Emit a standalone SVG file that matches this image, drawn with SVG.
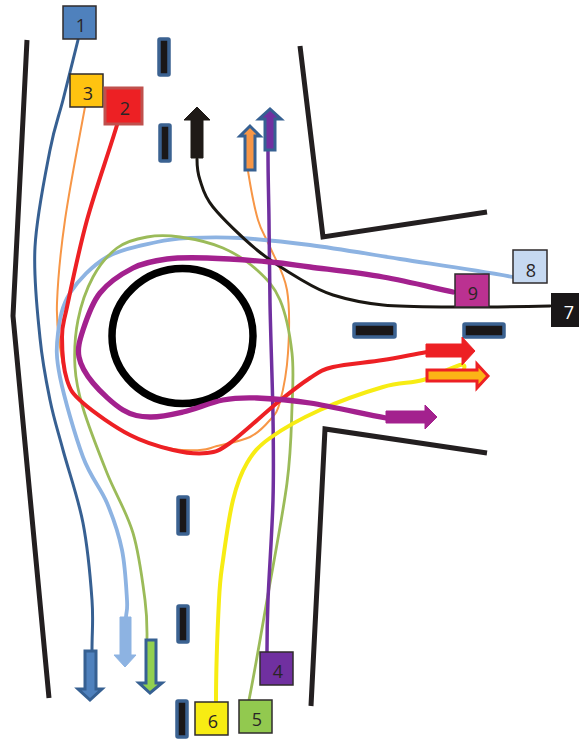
<svg xmlns="http://www.w3.org/2000/svg" width="579" height="742" viewBox="0 0 579 742">
<style>
.wall{fill:none;stroke:#231f20;stroke-width:5}
.isl{fill:#1a1718;stroke:#3b6291;stroke-width:3.5}
.c{fill:none;stroke-linecap:round}
.n{stroke:#2f2b2c;stroke-width:1.5}
text{font-family:"Open Sans","Liberation Sans",sans-serif;font-size:18px;fill:#2a2526;text-anchor:middle}
</style>
<rect width="579" height="742" fill="#fff"/>
<g id="walls">
<path class="wall" d="M27 40L13 316L49 698"/>
<path class="wall" d="M300 46L323 237L487 212"/>
<path class="wall" d="M311 706L325 429L487 453"/>
</g>
<g id="islands">
<rect class="isl" x="159" y="39" width="10" height="36" rx="1"/>
<rect class="isl" x="160" y="125" width="10" height="36" rx="1"/>
<rect class="isl" x="178" y="497" width="10" height="37" rx="1"/>
<rect class="isl" x="178" y="606" width="10" height="36" rx="1"/>
<rect class="isl" x="177" y="701" width="10" height="36" rx="1"/>
<rect class="isl" x="354" y="324" width="41" height="13" rx="1"/>
<rect class="isl" x="464" y="324" width="40" height="13" rx="1"/>
<ellipse cx="182.500" cy="336" rx="70.500" ry="67.500" fill="none" stroke="#000" stroke-width="7.500"/>
</g>
<g id="connectors">
<path class="c" stroke="#376092" stroke-width="3" d="M78 40C73 60 67.700 81.700 63 100S54.700 125.500 50 150S36.700 215.700 35 247S37.500 312.500 40 338S46.200 381.300 50 400S57.500 429.500 63 450S78.200 498 83 523S90.500 579 92 600S92 630 92 650"/>
<path class="c" stroke="#f79646" stroke-width="2" d="M85 107C78 145 69.700 187.300 65 220S57.800 281.800 57 303S58.200 333.300 60 347S63.500 369 67 380S72.500 393.800 83 403S115 427.200 130 435S160.200 447 173 449S190 450.500 200 450S208.700 448.200 217 446S241.200 441.300 250 437S265 425.800 270 420S277 413.200 280 402S286.800 371.700 288 353S290 307.700 287 290S274.800 258.700 270 247S261.700 232.700 258 220S251 190 248 171"/>
<path class="c" stroke="#8db3e2" stroke-width="3.800" d="M513 277C475 270 433.800 264.300 400 259S336.700 248.500 310 245S260 239.200 240 238S203.800 237.300 190 238S170.800 238.800 157 242S121.500 248.500 107 257S78.200 280.300 70 293S59.700 319 58 333S55.800 356.300 60 377S75.200 436 83 457S100.500 487.500 107 503S118.700 533.800 122 550S126.300 589 127 600S126.500 610 126 617"/>
<path class="c" stroke="#9bbb59" stroke-width="2.800" d="M249 700C255 670 260.700 636.200 267 600S282.800 515 287 483S291.200 428.700 292 407S294 370.800 292 353S285.800 313.800 280 300S266.500 278.700 257 270S235.800 253.500 223 248S192.700 238.800 180 237S157.500 235.200 147 237S126 241.300 117 248S99.500 265 93 277S81 305 78 320S74.200 352.500 75 367S77.700 390.300 83 408S98.700 452.200 107 473S126.700 511.800 133 533S142.700 582.500 145 600S147 625 147 638"/>
<path class="c" stroke="#7030a0" stroke-width="3.500" d="M267 652C267 640 267 625.300 268 600S272.200 530.500 273 500S273.500 449.800 273 417S270.700 340 270 303S269.300 245 269 220S268 180 268 151"/>
<path class="c" stroke="#f7ec13" stroke-width="4" d="M216 702C216 670 217.800 623.700 219 600S220.700 576.700 223 560S229 516.200 233 500S240.800 473.300 247 463S257.800 446.800 270 438S301.200 418.500 320 410S365.800 392 383 387S410.200 383.700 423 380S445 370 460 365Q466 364 464 369"/>
<path class="c" stroke="#1a1712" stroke-width="3" d="M197 159C197 166 197.300 172 200 180S203.500 195.300 213 207S242.500 238 257 250S287.300 271.500 300 279S319.200 290.700 333 295S363 303 383 305S425.200 306.800 453 307S500 307 550 306"/>
<path class="c" stroke="#ed2024" stroke-width="4" d="M117 125C108 155 95.300 189.700 87 220S71.200 287.500 67 307S62 324.800 62 337S63.500 369 67 380S72.500 393.800 83 403S115 427.200 130 435S160.200 447 173 450S197.500 454.200 207 453S218.300 451.300 230 443S263.700 413.800 277 403S300.700 384 310 378S320.800 370 333 367S367.300 362.500 383 360S410 355 427 352"/>
<path class="c" stroke="#a3218e" stroke-width="5.300" d="M453 292C430 287 406.800 281.200 383 277S328.800 269.500 310 267S287.200 263.500 270 262S224.200 258.500 207 258S179.300 257.300 167 259S144.200 262.300 133 268S108.300 282.700 100 293S86.500 319.300 83 330S77.300 348.200 79 357S85.700 374.200 93 383S113.500 404.300 123 410S140 416.700 150 417S170.800 414.800 183 412S210.700 402.300 223 400S242.500 397.500 257 398S289 399.700 310 403S360 413 386 418"/>
<path fill="#1f1a17" stroke="#1f1a17" d="M191 158V120H184L197 107L210 120H203V158Z"/>
<path fill="#f79646" stroke="#366092" stroke-width="3" d="M245 170V136H240L250 126L260 136H255V170Z"/>
<path fill="#7030a0" stroke="#366092" stroke-width="3" d="M265 150V119H259L270 109L281 119H275V150Z"/>
<path fill="#ed2024" stroke="#ed2024" d="M426 344H462V337L475 351L462 365V357H426Z"/>
<path fill="#fcb316" stroke="#ed2024" stroke-width="3" d="M427 370H477V364L488 376L477 388V381H427Z"/>
<path fill="#a3218e" stroke="#a3218e" d="M386 411H425V405L437 417L425 429V423H386Z"/>
<path fill="#4f81bd" stroke="#366092" stroke-width="3" d="M85 651H96V689H102L90 700L78 689H85Z"/>
<path fill="#8db3e2" stroke="#8db3e2" d="M120 617H131V655H136L125 667L114 655H120Z"/>
<path fill="#92d050" stroke="#366092" stroke-width="3" d="M146 640H156V683H162L150 693L139 683H146Z"/>
</g>
<g id="node-1"><rect class="n" x="63" y="6" width="33" height="33" fill="#4f81bd"/><text x="81" y="32">1</text></g>
<g id="node-3"><rect class="n" x="70" y="74" width="33" height="33" fill="#ffc310"/><text x="88" y="100">3</text></g>
<g id="node-2"><rect x="105" y="88" width="37" height="36" fill="#ed2024" stroke="#c0504d" stroke-width="3"/><text x="125" y="115">2</text></g>
<g id="node-4"><rect class="n" x="260" y="652" width="33" height="33" fill="#7030a0"/><text x="278" y="678">4</text></g>
<g id="node-5"><rect class="n" x="239" y="700" width="33" height="33" fill="#92c94f"/><text x="257" y="726">5</text></g>
<g id="node-6"><rect class="n" x="195" y="702" width="33" height="33" fill="#f7ec13"/><text x="213" y="728">6</text></g>
<g id="node-7"><rect x="551" y="293" width="28" height="34" fill="#1a1718"/><text x="569" y="319" style="fill:#fff">7</text></g>
<g id="node-8"><rect class="n" x="513" y="250" width="34" height="33" fill="#c6d9f1"/><text x="531" y="277">8</text></g>
<g id="node-9"><rect class="n" x="455" y="274" width="34" height="33" fill="#bb3191"/><text x="473" y="300">9</text></g>
</svg>
